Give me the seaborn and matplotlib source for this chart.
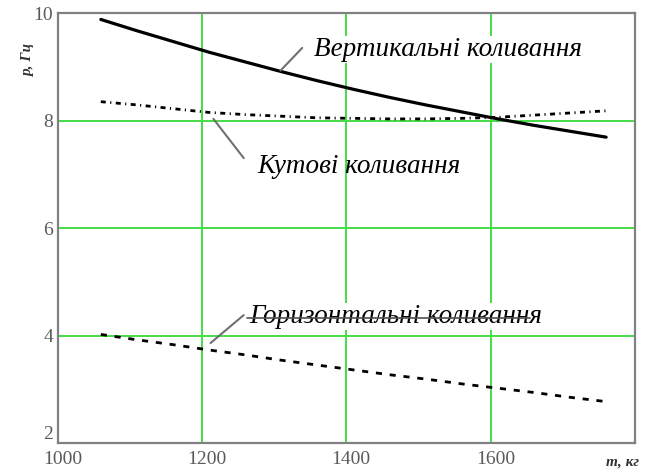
import numpy as np
import pandas as pd
import matplotlib
matplotlib.use("Agg")
import matplotlib.pyplot as plt
import matplotlib.transforms as mtransforms
import seaborn as sns

# mass, kg
mass = [1060, 1110, 1160, 1210, 1260, 1310, 1360, 1410, 1460, 1510,
        1560, 1610, 1660, 1710, 1760]
# natural frequencies, Hz
vertical = [9.88, 9.67, 9.47, 9.27, 9.09, 8.91, 8.74, 8.58, 8.43, 8.29,
            8.16, 8.03, 7.91, 7.80, 7.69]
angular = [8.35, 8.29, 8.22, 8.15, 8.11, 8.08, 8.05, 8.04, 8.03, 8.03,
           8.04, 8.06, 8.10, 8.14, 8.18]
horizontal = [4.02, 3.92, 3.83, 3.73, 3.64, 3.54, 3.45, 3.36, 3.27, 3.19,
              3.10, 3.02, 2.94, 2.85, 2.77]

x_ticks = [1000, 1200, 1400, 1600]
y_ticks = [2, 4, 6, 8, 10]
x_label = "m, кг"
y_label = "p, Гц"
lbl_vertical = "Вертикальні коливання"
lbl_angular = "Кутові коливання"
lbl_horizontal = "Горизонтальні коливання"

df = pd.DataFrame({"m": mass, "vert": vertical, "ang": angular, "hor": horizontal})

sns.set_theme(style="white")
plt.rcParams["font.family"] = ["Liberation Serif", "DejaVu Serif"]

fig = plt.figure(figsize=(6.5, 4.73), dpi=100)
ax = fig.add_axes([57.5 / 650, 30 / 473, (635 - 57.5) / 650, (443 - 13) / 473])

grid_green = "#45dc45"
for gx in [1200, 1400, 1600]:
    ax.axvline(gx, color=grid_green, lw=1.4, zorder=0)
for gy in [4, 6, 8]:
    ax.axhline(gy, color=grid_green, lw=1.4, zorder=0)

sns.lineplot(data=df, x="m", y="vert", ax=ax, color="black", lw=2.3, zorder=3)
l_ang = sns.lineplot(data=df, x="m", y="ang", ax=ax, color="black", lw=2.0, zorder=3).lines[-1]
l_ang.set_dashes([1.8, 1.6, 0.4, 1.6])
l_hor = sns.lineplot(data=df, x="m", y="hor", ax=ax, color="black", lw=2.0, zorder=3).lines[-1]
l_hor.set_dashes([2.2, 2.8])

ax.set_xlim(1000, 1800)
ax.set_ylim(2, 10)
ax.set_xticks(x_ticks)
ax.set_yticks(y_ticks)
ax.set_xticklabels([str(v) for v in x_ticks])
ax.set_yticklabels([str(v) for v in y_ticks])
ax.tick_params(axis="both", length=0, labelsize=14, labelcolor="#5a5a5a")
ax.tick_params(axis="x", pad=6)
ax.tick_params(axis="y", pad=3)
# x labels sit a little right of their grid lines
shift = mtransforms.ScaledTranslation(5 / 100, 0, fig.dpi_scale_trans)
for lab in ax.get_xticklabels():
    lab.set_transform(lab.get_transform() + shift)
# lowest y label sits just above the corner so it clears the first x label
ax.get_yticklabels()[0].set_verticalalignment("bottom")
ax.set_xlabel("")
ax.set_ylabel("")

for s in ax.spines.values():
    s.set_visible(True)
    s.set_color("#808080")
    s.set_linewidth(1.6)

# axis captions
fig.text(29 / 650, 1 - 60 / 473, y_label, rotation=90, ha="center", va="center",
         fontsize=11, fontstyle="italic", fontweight="bold", color="#333333")
fig.text(622 / 650, 1 - 462 / 473, x_label, ha="center", va="center",
         fontsize=11, fontstyle="italic", fontweight="bold", color="#333333")

# curve labels with leader lines
lead = dict(color="#707070", lw=1.5, zorder=4)
txt = dict(fontsize=19.5, fontstyle="italic", color="black", va="baseline", ha="left", zorder=5)

ax.plot([1309, 1339], [8.93, 9.35], **lead)
ax.text(1355, 9.2, lbl_vertical,
        bbox=dict(facecolor="white", edgecolor="none", pad=1), **txt)

ax.plot([1216, 1258], [8.03, 7.30], **lead)
ax.text(1277, 7.03, lbl_angular, **txt)

ax.plot([1212, 1258], [3.86, 4.38], **lead)
ax.text(1265, 4.23, lbl_horizontal,
        bbox=dict(facecolor="white", edgecolor="none", pad=1), **txt)
ax.plot([1262, 1655], [4.32, 4.32], color="#505050", lw=1.2, zorder=6)

fig.savefig("out.png", dpi=100, facecolor="white")
